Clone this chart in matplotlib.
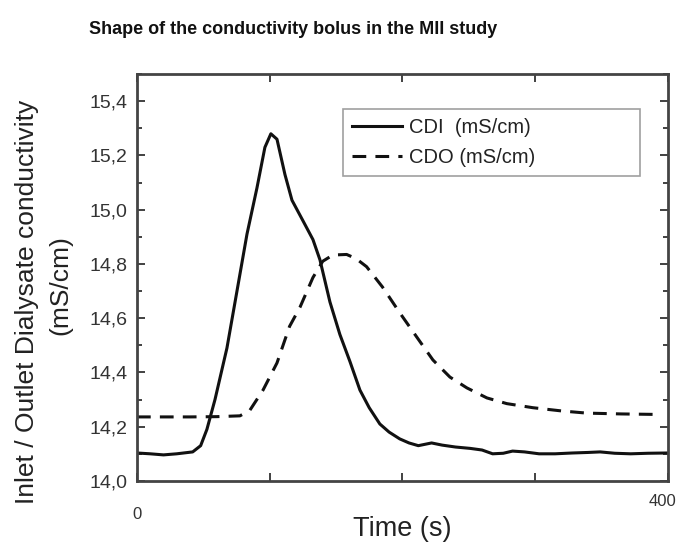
import numpy as np
import matplotlib
matplotlib.use("Agg")
import matplotlib.pyplot as plt
from matplotlib.ticker import MultipleLocator, FuncFormatter

plt.rcParams['font.family'] = ['Liberation Sans', 'DejaVu Sans']

# values
cdi_t = [0, 10, 20, 30, 42, 48, 52.7, 58.8, 67.8, 75, 82.9, 90.4, 96.4, 100.9,
         105.5, 111.5, 116.8, 125, 132.6, 137.9, 145.4, 152.9, 160.5, 168, 175,
         183, 190, 198, 205, 212, 217, 222, 230, 240, 251, 260, 268, 276, 283,
         292, 303, 315, 328, 340, 349, 360, 372, 385, 400]
cdi_v = [14.103, 14.100, 14.096, 14.100, 14.107, 14.130, 14.19, 14.30, 14.49,
         14.69, 14.91, 15.08, 15.23, 15.28, 15.26, 15.13, 15.035, 14.96,
         14.89, 14.815, 14.66, 14.54, 14.44, 14.335, 14.27, 14.21, 14.18,
         14.155, 14.14, 14.13, 14.135, 14.14, 14.132, 14.125, 14.12, 14.114,
         14.10, 14.102, 14.11, 14.107, 14.10, 14.10, 14.103, 14.105, 14.107,
         14.102, 14.100, 14.102, 14.103]
cdo_t = [0, 20, 40, 60, 77.6, 85, 95, 105.5, 115, 122.8, 132.6, 140, 147.6,
         158, 165, 173, 185, 198, 210.9, 223, 235.8, 248.6, 263.7, 278.7,
         298.3, 320, 339, 365, 394]
cdo_v = [14.236, 14.236, 14.236, 14.237, 14.24, 14.26, 14.335, 14.435, 14.57,
         14.64, 14.75, 14.81, 14.833, 14.835, 14.82, 14.79, 14.715, 14.62,
         14.53, 14.446, 14.383, 14.343, 14.306, 14.285, 14.27, 14.258, 14.25,
         14.247, 14.245]

fig = plt.figure(figsize=(6.78, 5.49), dpi=100)
ax = fig.add_axes([0.202, 0.124, 0.783, 0.741])

ax.plot(cdi_t, cdi_v, color='#111111', lw=2.2, ls='-', label='CDI  (mS/cm)')
ax.plot(cdo_t, cdo_v, color='#111111', lw=2.2, ls=(0, (4.5, 3)), label='CDO (mS/cm)')

ax.set_xlim(0, 400)
ax.set_ylim(14.0, 15.5)
ax.xaxis.set_major_locator(MultipleLocator(100))
ax.yaxis.set_major_locator(MultipleLocator(0.2))
ax.yaxis.set_minor_locator(MultipleLocator(0.1))
ax.yaxis.set_major_formatter(FuncFormatter(lambda v, p: ('%.1f' % v).replace('.', ',') if v < 15.45 else ''))

ax.tick_params(which='both', direction='in', top=True, right=True, color='#333333')
ax.tick_params(which='major', length=6, width=1.3)
ax.tick_params(which='minor', length=3.5, width=1.3)
ax.tick_params(axis='y', labelsize=14, labelcolor='#333333', pad=7)
ax.tick_params(axis='x', labelbottom=False)
for s in ax.spines.values():
    s.set_color('#444444')
    s.set_linewidth(2)

# the two x labels sit at different heights in the reference
xt = ax.get_xaxis_transform()
ax.text(0, -0.0835, '0', transform=xt, ha='center', va='center',
        fontsize=12, color='#333333', clip_on=False)
ax.text(406.5, -0.0516, '400', transform=xt, ha='right', va='center',
        fontsize=12, color='#333333', clip_on=False)

ax.set_xlabel('Time (s)', fontsize=19.5, color='#222222')
ax.xaxis.set_label_coords(0.5, -0.085)

fig.text(27 / 678, 1 - 302 / 549, 'Inlet / Outlet Dialysate conductivity',
         rotation=90, ha='center', va='center', fontsize=19, color='#222222')
fig.text(60 / 678, 1 - 285 / 549, '(mS/cm)',
         rotation=90, ha='center', va='center', fontsize=19, color='#222222')

fig.text(293 / 678, 1 - 30 / 549, 'Shape of the conductivity bolus in the MII study',
         ha='center', va='center', fontsize=13, fontweight='bold',
         color='#111111')

leg = ax.legend(loc='upper left', bbox_to_anchor=(0.388, 0.749, 0.559, 0.165),
                mode='expand', fontsize=14.5, frameon=True, fancybox=False,
                handlelength=2.5, handletextpad=0.35, borderaxespad=0,
                borderpad=0.45, labelspacing=0.55, labelcolor='#222222')
leg.get_frame().set_edgecolor('#888888')
leg.get_frame().set_linewidth(1.2)

plt.savefig('out.png', dpi=100)
